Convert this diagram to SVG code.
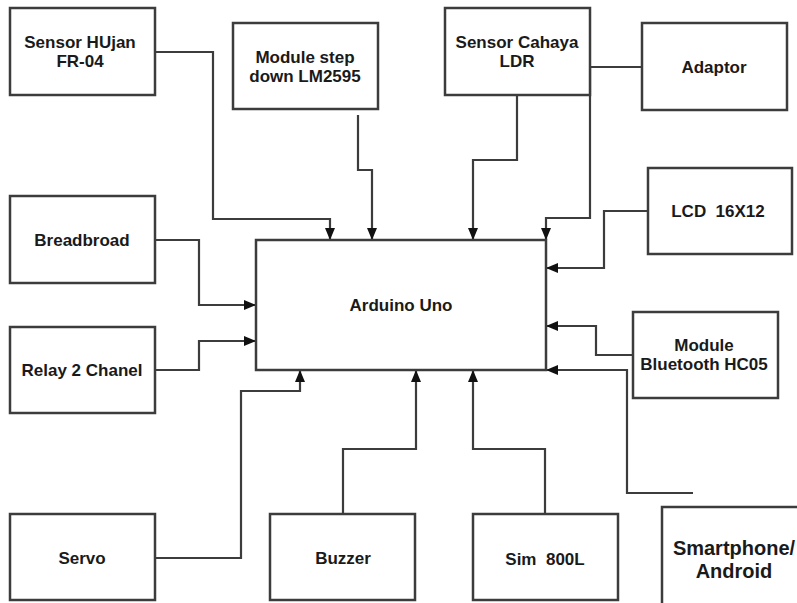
<svg xmlns="http://www.w3.org/2000/svg" width="797" height="603" viewBox="0 0 797 603">
<style>
.box{fill:#fff;stroke:#3c3c3c;stroke-width:2.5}
.t{font-family:"Liberation Sans",Arial,sans-serif;font-weight:bold;font-size:17px;fill:#1a1a1a;text-anchor:middle;white-space:pre}
.big{font-size:20px}
.c{fill:none;stroke:#3c3c3c;stroke-width:2.2}
</style>
<defs>
<marker id="ah" markerUnits="userSpaceOnUse" markerWidth="12" markerHeight="10" refX="12" refY="5" orient="auto">
<path d="M0,0 L12,5 L0,10 z" fill="#111"/>
</marker>
</defs>
<rect width="797" height="603" fill="#fff"/>
<g id="connectors">
<polyline class="c" points="155,52 213,52 213,219 330,219 330,240" marker-end="url(#ah)"/>
<polyline class="c" points="358,115 358,170 372,170 372,240" marker-end="url(#ah)"/>
<polyline class="c" points="517,95 517,160 473,160 473,240" marker-end="url(#ah)"/>
<polyline class="c" points="642,67 590,67 590,218 546,218 546,240" marker-end="url(#ah)"/>
<polyline class="c" points="648,211 604,211 604,268 546,268" marker-end="url(#ah)"/>
<polyline class="c" points="633,355 596,355 596,326 546,326" marker-end="url(#ah)"/>
<polyline class="c" points="693,493 627,493 627,370 546,370" marker-end="url(#ah)"/>
<polyline class="c" points="545,514 545,449 473,449 473,370" marker-end="url(#ah)"/>
<polyline class="c" points="343,514 343,449 416,449 416,370" marker-end="url(#ah)"/>
<polyline class="c" points="155,558 241,558 241,391 300,391 300,370" marker-end="url(#ah)"/>
<polyline class="c" points="155,240 199,240 199,305 256,305" marker-end="url(#ah)"/>
<polyline class="c" points="155,370 199,370 199,341 256,341" marker-end="url(#ah)"/>
</g>
<g id="arduino">
<rect class="box" x="256" y="240" width="290" height="130"/>
<text class="t" x="401" y="311">Arduino Uno</text>
</g>
<g id="sensor-hujan">
<rect class="box" x="10" y="8" width="145" height="87"/>
<text class="t" x="80" y="48">Sensor HUjan</text>
<text class="t" x="80" y="67">FR-04</text>
</g>
<g id="stepdown">
<rect class="box" x="233" y="23" width="145" height="86"/>
<text class="t" x="305" y="63">Module step</text>
<text class="t" x="305" y="82">down LM2595</text>
</g>
<g id="ldr">
<rect class="box" x="445" y="8" width="145" height="87"/>
<text class="t" x="517" y="48">Sensor Cahaya</text>
<text class="t" x="517" y="67">LDR</text>
</g>
<g id="adaptor">
<rect class="box" x="642" y="23" width="145" height="87"/>
<text class="t" x="714" y="73">Adaptor</text>
</g>
<g id="lcd">
<rect class="box" x="648" y="168" width="144" height="86"/>
<text class="t" x="718" y="217">LCD  16X12</text>
</g>
<g id="bluetooth">
<rect class="box" x="633" y="312" width="145" height="86"/>
<text class="t" x="704" y="351">Module</text>
<text class="t" x="704" y="370">Bluetooth HC05</text>
</g>
<g id="breadboard">
<rect class="box" x="10" y="196" width="145" height="87"/>
<text class="t" x="82" y="246">Breadbroad</text>
</g>
<g id="relay">
<rect class="box" x="10" y="327" width="145" height="86"/>
<text class="t" x="82" y="376">Relay 2 Chanel</text>
</g>
<g id="servo">
<rect class="box" x="10" y="514" width="145" height="86"/>
<text class="t" x="82" y="564">Servo</text>
</g>
<g id="buzzer">
<rect class="box" x="270" y="514" width="145" height="86"/>
<text class="t" x="343" y="564">Buzzer</text>
</g>
<g id="sim">
<rect class="box" x="473" y="514" width="145" height="86"/>
<text class="t" x="545" y="565">Sim  800L</text>
</g>
<g id="smartphone">
<rect class="box" x="662" y="507" width="150" height="110"/>
<text class="t big" x="734" y="555">Smartphone/</text>
<text class="t big" x="734" y="578">Android</text>
</g>
</svg>
